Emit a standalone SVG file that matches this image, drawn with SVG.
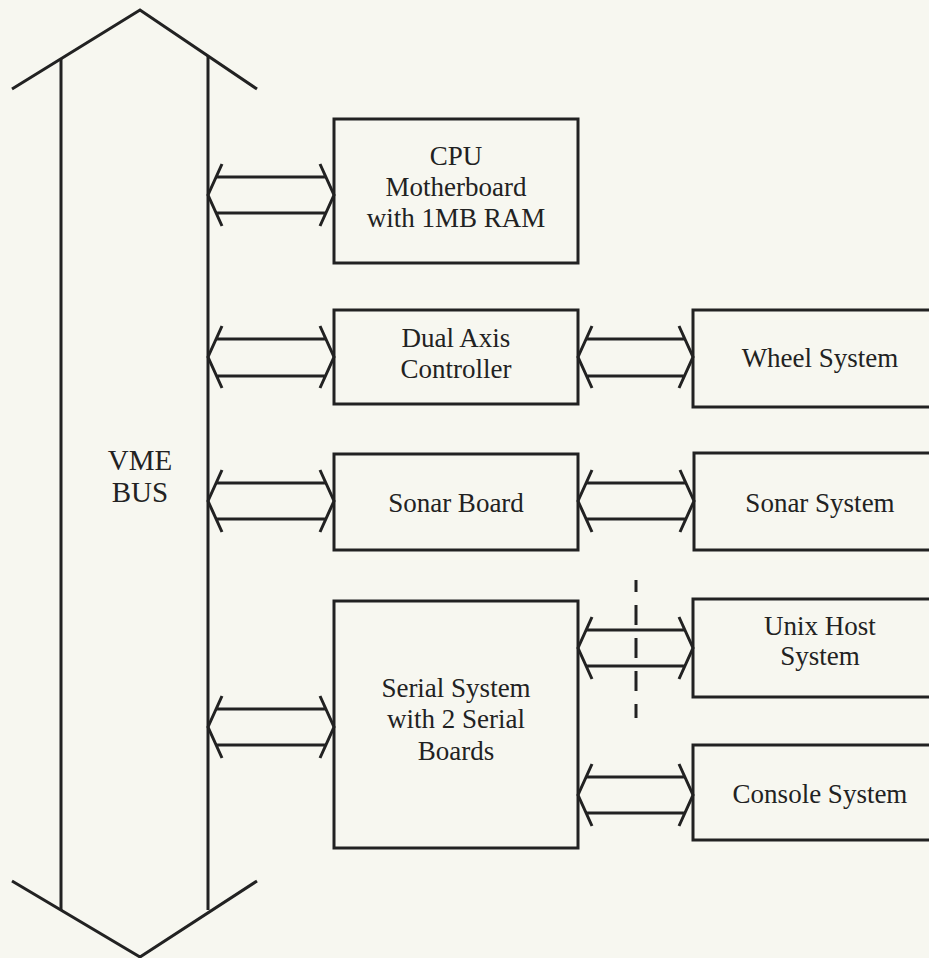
<svg xmlns="http://www.w3.org/2000/svg" width="929" height="958" viewBox="0 0 929 958">
<style>
.ln{fill:none;stroke:#222;stroke-width:3;stroke-linejoin:miter;stroke-linecap:butt}
.bx{fill:none;stroke:#222;stroke-width:3}
.t{font-family:"Liberation Serif",serif;font-size:27px;fill:#222;text-anchor:middle}
.big{font-size:29px}
</style>
<rect width="929" height="958" fill="#f7f7f0"/>
<g id="vme-bus">
<path class="ln" d="M12,89 L140,10 L257,89"/>
<path class="ln" d="M12,881 L140,957 L257,881"/>
<path class="ln" d="M61,59 V910 M208,56 V910"/>
<text class="t big" x="140" y="470">VME</text>
<text class="t big" x="140" y="502">BUS</text>
</g>
<g id="cpu">
<rect class="bx" x="334" y="119" width="244" height="144"/>
<text class="t" x="456" y="165">CPU</text>
<text class="t" x="456" y="196">Motherboard</text>
<text class="t" x="456" y="227">with 1MB RAM</text>
</g>
<g id="dual-axis">
<rect class="bx" x="334" y="310" width="244" height="94"/>
<text class="t" x="456" y="347">Dual Axis</text>
<text class="t" x="456" y="378">Controller</text>
</g>
<g id="sonar-board">
<rect class="bx" x="334" y="454" width="244" height="96"/>
<text class="t" x="456" y="512">Sonar Board</text>
</g>
<g id="serial">
<rect class="bx" x="334" y="601" width="244" height="247"/>
<text class="t" x="456" y="697">Serial System</text>
<text class="t" x="456" y="728">with 2 Serial</text>
<text class="t" x="456" y="760">Boards</text>
</g>
<g id="wheel">
<rect class="bx" x="693" y="310" width="256" height="97"/>
<text class="t" x="820" y="367">Wheel System</text>
</g>
<g id="sonar-system">
<rect class="bx" x="694" y="453" width="256" height="97"/>
<text class="t" x="820" y="512">Sonar System</text>
</g>
<g id="unix">
<rect class="bx" x="693" y="599" width="256" height="98"/>
<text class="t" x="820" y="635">Unix Host</text>
<text class="t" x="820" y="665">System</text>
</g>
<g id="console">
<rect class="bx" x="693" y="745" width="256" height="95"/>
<text class="t" x="820" y="803">Console System</text>
</g>
<g id="connectors">
<path class="ln" d="M222,164 L208,195 L222,226 M320,164 L334,195 L320,226 M216,177 H326 M216,213 H326"/>
<path class="ln" d="M222,326 L208,357 L222,388 M320,326 L334,357 L320,388 M216,339 H326 M216,376 H326"/>
<path class="ln" d="M592,326 L578,357 L592,388 M679,326 L693,357 L679,388 M586,339 H685 M586,376 H685"/>
<path class="ln" d="M222,470 L208,501 L222,532 M320,470 L334,501 L320,532 M216,483 H326 M216,519 H326"/>
<path class="ln" d="M592,470 L578,501 L592,532 M680,470 L694,501 L680,532 M586,483 H686 M586,519 H686"/>
<path class="ln" d="M222,696 L208,727 L222,758 M320,696 L334,727 L320,758 M216,709 H326 M216,745 H326"/>
<path class="ln" d="M592,617 L578,648 L592,679 M679,617 L693,648 L679,679 M586,630 H685 M586,666 H685"/>
<path class="ln" d="M592,764 L578,795 L592,826 M679,764 L693,795 L679,826 M586,777 H685 M586,813 H685"/>
<path class="ln" d="M636,580 V718" stroke-dasharray="20 13" stroke-dashoffset="8"/>
</g>
</svg>
